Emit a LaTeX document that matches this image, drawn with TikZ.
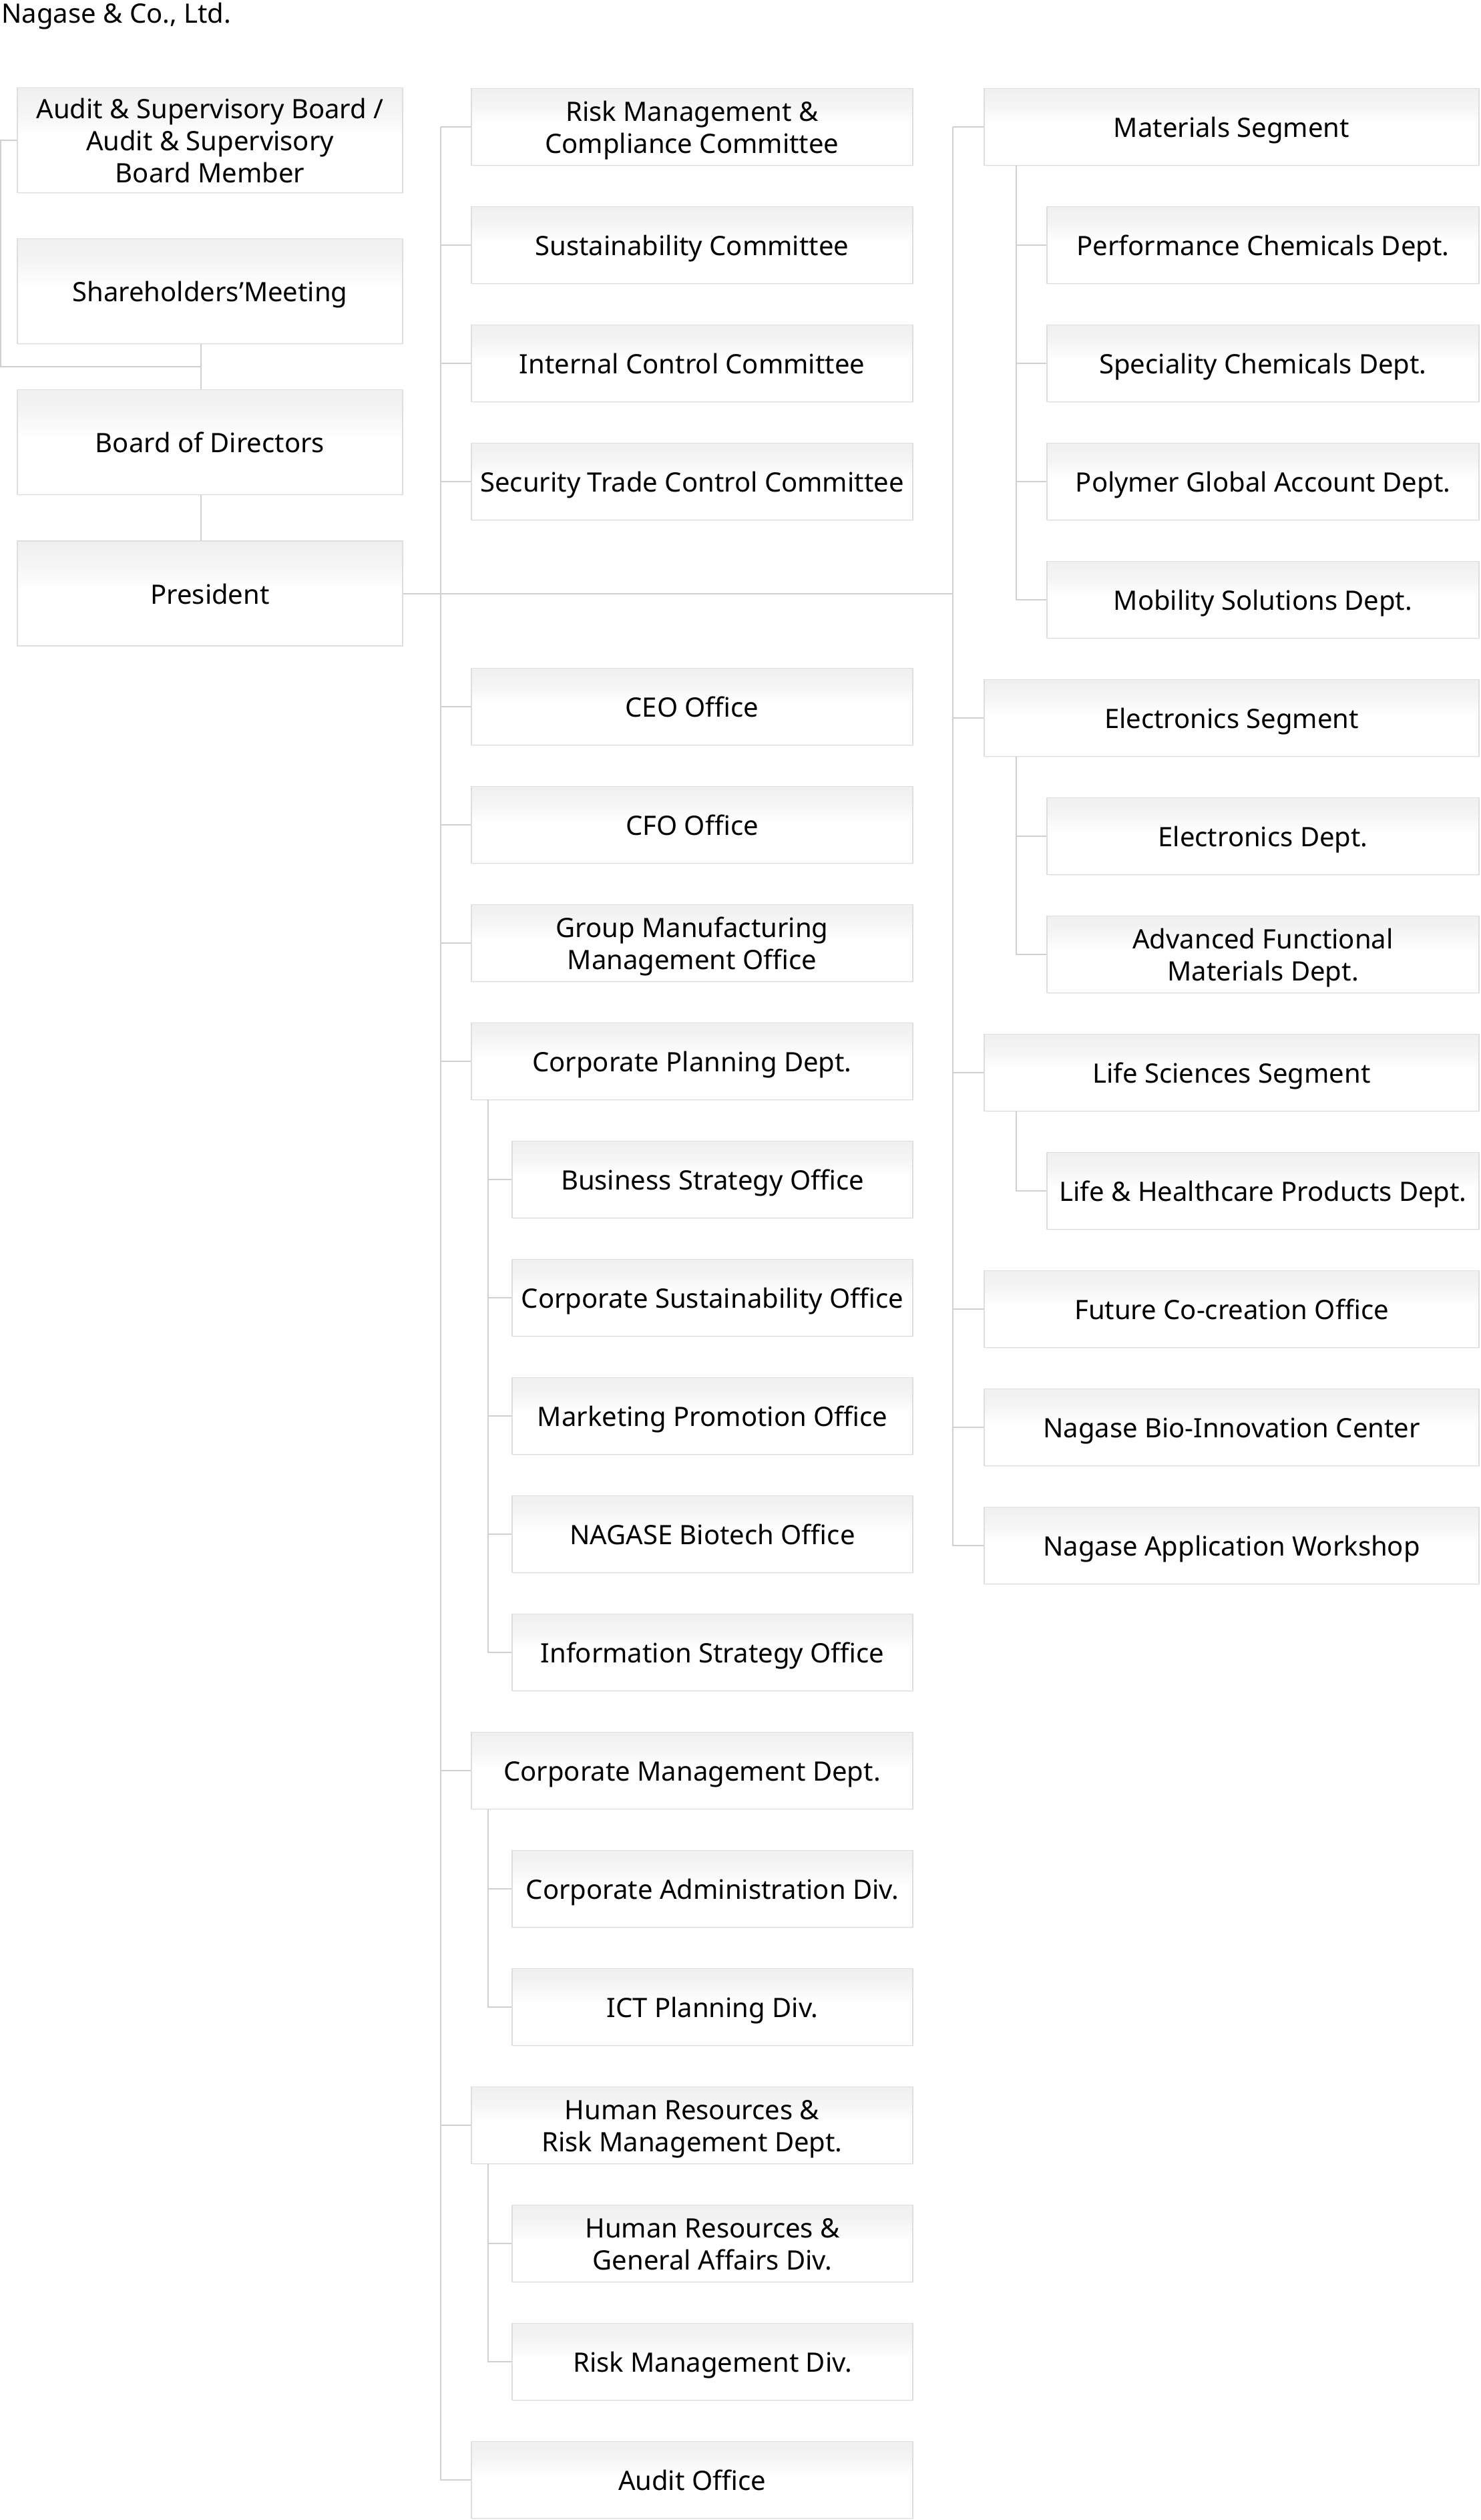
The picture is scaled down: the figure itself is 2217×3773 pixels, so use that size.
\documentclass[tikz,border=0pt]{standalone}
\usepackage{fontspec}
\setmainfont{Noto Sans}
\usetikzlibrary{shadows}
\definecolor{linegray}{HTML}{D0D0D0}
\definecolor{boxgray}{HTML}{DEDEDE}
\pgfdeclareverticalshading{boxshade}{100bp}{color(0bp)=(white); color(25bp)=(white); color(52bp)=(white); color(64bp)=(black!4); color(75bp)=(black!6); color(100bp)=(black!6)}
\tikzset{
  box/.style={draw=boxgray, line width=0.6pt, shading=boxshade,
    drop shadow={shadow xshift=0.5pt, shadow yshift=-0.6pt, opacity=0.10},
    inner sep=0pt, align=center, text=black, font=\fontsize{20}{24}\selectfont,
    text height=19.76pt, text depth=4.24pt},
  twoline/.style={text height=43.76pt},
  threeline/.style={text height=67.76pt},
  cone/.style={box, minimum width=288.5pt, minimum height=78.5pt},
  ctwo/.style={box, minimum width=330.5pt, minimum height=57.5pt},
  ctwos/.style={box, minimum width=300pt, minimum height=57.5pt},
  cthree/.style={box, minimum width=370.5pt, minimum height=57.5pt},
  cthrees/.style={box, minimum width=323.5pt, minimum height=57.5pt},
  conn/.style={draw=linegray, line width=1pt}
}
\begin{document}
\begin{tikzpicture}[x=0.5pt, y=-0.5pt]
\useasboundingbox (0,0) rectangle (2217,3773);
% title
\node[anchor=base west, inner sep=0pt, font=\fontsize{20}{24}\selectfont] (title) at (2,35) {Nagase \& Co., Ltd.};
% column 1
\node[cone, threeline] (audit) at (314.5,210) {Audit \& Supervisory Board /\\Audit \& Supervisory\\Board Member};
\node[cone] (sh) at (314.5,436) {Shareholders’Meeting};
\node[cone] (board) at (314.5,662) {Board of Directors};
\node[cone] (pres) at (314.5,888.5) {President};
% column 2
\node[ctwo, twoline] (risk) at (1036.5,190) {Risk Management \&\\Compliance Committee};
\node[ctwo] (sust) at (1036.5,367) {Sustainability Committee};
\node[ctwo] (ictl) at (1036.5,544) {Internal Control Committee};
\node[ctwo] (sec) at (1036.5,721) {Security Trade Control Committee};
\node[ctwo] (ceo) at (1036.5,1058) {CEO Office};
\node[ctwo] (cfo) at (1036.5,1235) {CFO Office};
\node[ctwo, twoline] (gmo) at (1036.5,1412) {Group Manufacturing\\Management Office};
\node[ctwo] (cpd) at (1036.5,1589) {Corporate Planning Dept.};
\node[ctwos] (bso) at (1067,1766) {Business Strategy Office};
\node[ctwos] (cso) at (1067,1943) {Corporate Sustainability Office};
\node[ctwos] (mpo) at (1067,2120) {Marketing Promotion Office};
\node[ctwos] (nbo) at (1067,2297) {NAGASE Biotech Office};
\node[ctwos] (iso) at (1067,2474) {Information Strategy Office};
\node[ctwo] (cmd) at (1036.5,2651) {Corporate Management Dept.};
\node[ctwos] (cad) at (1067,2828) {Corporate Administration Div.};
\node[ctwos] (ict) at (1067,3005) {ICT Planning Div.};
\node[ctwo, twoline] (hrd) at (1036.5,3182) {Human Resources \&\\Risk Management Dept.};
\node[ctwos, twoline] (hga) at (1067,3359) {Human Resources \&\\General Affairs Div.};
\node[ctwos] (rmd) at (1067,3536) {Risk Management Div.};
\node[ctwo] (aud) at (1036.5,3713) {Audit Office};
% column 3
\node[cthree] (mat) at (1844.5,190) {Materials Segment};
\node[cthrees] (pcd) at (1891.5,367) {Performance Chemicals Dept.};
\node[cthrees] (scd) at (1891.5,544) {Speciality Chemicals Dept.};
\node[cthrees] (pga) at (1891.5,721) {Polymer Global Account Dept.};
\node[cthrees] (msd) at (1891.5,898) {Mobility Solutions Dept.};
\node[cthree] (els) at (1844.5,1075) {Electronics Segment};
\node[cthrees] (eld) at (1891.5,1252) {Electronics Dept.};
\node[cthrees, twoline] (afm) at (1891.5,1429) {Advanced Functional\\Materials Dept.};
\node[cthree] (lss) at (1844.5,1606) {Life Sciences Segment};
\node[cthrees] (lhp) at (1891.5,1783) {Life \& Healthcare Products Dept.};
\node[cthree] (fco) at (1844.5,1960) {Future Co-creation Office};
\node[cthree] (bic) at (1844.5,2137) {Nagase Bio-Innovation Center};
\node[cthree] (naw) at (1844.5,2314) {Nagase Application Workshop};
% coordinates for trunks
\coordinate (L) at (1,549);
\coordinate (J) at (301,549);
\coordinate (T2) at (660,190);
\coordinate (S2) at (731,0);
\coordinate (T3) at (1427,190);
\coordinate (S3) at (1522,0);
% column 1 connectors
\draw[conn] (audit.west) -| (L) -- (J);
\draw[conn] (sh.south -| J) -- (board.north -| J);
\draw[conn] (board.south -| J) -- (pres.north -| J);
\draw[conn] (pres.east) -- (pres.east -| T3);
% column 2 trunk
\foreach \n in {risk,sust,ictl,sec,ceo,cfo,gmo,cpd,cmd,hrd,aud}
  \draw[conn] (T2) |- (\n.west);
\foreach \n in {bso,cso,mpo,nbo,iso}
  \draw[conn] (cpd.south -| S2) |- (\n.west);
\foreach \n in {cad,ict}
  \draw[conn] (cmd.south -| S2) |- (\n.west);
\foreach \n in {hga,rmd}
  \draw[conn] (hrd.south -| S2) |- (\n.west);
% column 3 trunk
\foreach \n in {mat,els,lss,fco,bic,naw}
  \draw[conn] (T3) |- (\n.west);
\foreach \n in {pcd,scd,pga,msd}
  \draw[conn] (mat.south -| S3) |- (\n.west);
\foreach \n in {eld,afm}
  \draw[conn] (els.south -| S3) |- (\n.west);
\draw[conn] (lss.south -| S3) |- (lhp.west);
\end{tikzpicture}
\end{document}
